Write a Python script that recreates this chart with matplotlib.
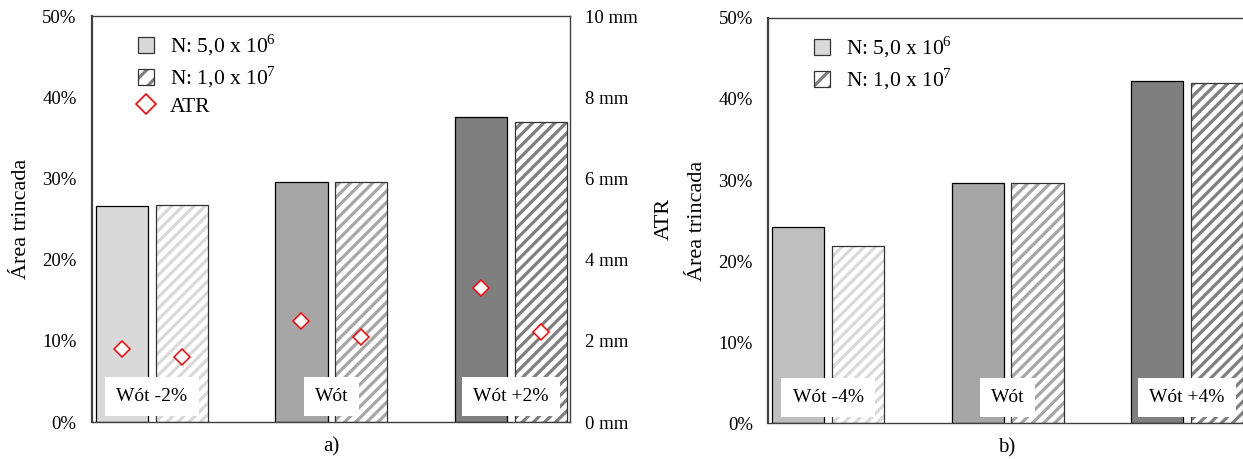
import numpy as np
import matplotlib
matplotlib.use("Agg")
import matplotlib.pyplot as plt
from matplotlib.patches import Patch
from matplotlib.lines import Line2D
from matplotlib.legend_handler import HandlerTuple

plt.rcParams['font.family'] = ['Liberation Serif', 'DejaVu Serif']
plt.rcParams['mathtext.fontset'] = 'custom'
plt.rcParams['mathtext.rm'] = 'Liberation Serif'
plt.rcParams['hatch.linewidth'] = 2.3

# panel a)
groups_a = ['Wót -2%', 'Wót', 'Wót +2%']
area_n1_a = [26.6, 29.6, 37.6]
area_n2_a = [26.7, 29.6, 36.9]
atr_n1_a = [1.80, 2.50, 3.30]
atr_n2_a = [1.61, 2.10, 2.21]
solid_a = ['#d9d9d9', '#a6a6a6', '#7f7f7f']
stripe_a = ['#d9d9d9', '#a6a6a6', '#7f7f7f']

# panel b)
groups_b = ['Wót -4%', 'Wót', 'Wót +4%']
area_n1_b = [24.2, 29.6, 42.2]
area_n2_b = [21.8, 29.6, 42.0]
solid_b = ['#bfbfbf', '#a6a6a6', '#7f7f7f']
stripe_b = ['#d9d9d9', '#a6a6a6', '#7f7f7f']

lab_n1 = r'N: 5,0 x 10$^{\mathrm{6}}$'
lab_n2 = r'N: 1,0 x 10$^{\mathrm{7}}$'

W = 0.29
OFF = 0.167
x = np.arange(3)

fig = plt.figure(figsize=(12.43, 4.59), dpi=100)
ax1 = fig.add_axes([0.074, 0.0806, 0.3846, 0.8845])
ax2 = fig.add_axes([0.6179, 0.0784, 0.3846, 0.8824])


def draw_panel(ax, groups, v1, v2, solid, stripe):
    ax.bar(x - OFF, v1, W, color=solid, edgecolor='black', linewidth=0.9, zorder=2)
    ax.bar(x + OFF, v2, W, color='white', edgecolor=stripe, hatch='///', linewidth=0, zorder=2)
    ax.bar(x + OFF, v2, W, fill=False, edgecolor='#333333', linewidth=0.9, zorder=3)
    for xi, g in zip(x, groups):
        ax.text(xi, 3.1, g, ha='center', va='center', fontsize=14, zorder=5,
                bbox=dict(facecolor='white', edgecolor='none', pad=8))
    ax.set_xlim(-0.334, 2.329)
    ax.set_ylim(0, 50)
    ax.set_yticks(np.arange(0, 51, 10))
    ax.set_yticklabels([f'{t}%' for t in range(0, 51, 10)], fontsize=13.5)
    ax.set_xticks([])
    ax.tick_params(axis='y', length=0, pad=11)
    ax.set_ylabel('Área trincada', fontsize=16, labelpad=8)
    for s in ax.spines.values():
        s.set_color('#404040')
        s.set_linewidth(1.0)
    ax.spines['left'].set_linewidth(1.6)


draw_panel(ax1, groups_a, area_n1_a, area_n2_a, solid_a, stripe_a)
draw_panel(ax2, groups_b, area_n1_b, area_n2_b, solid_b, stripe_b)
ax1.set_xlabel('a)', fontsize=15, labelpad=11)
ax2.set_xlabel('b)', fontsize=15, labelpad=11)

# ATR on secondary axis
axr = ax1.twinx()
axr.set_ylim(0, 10)
axr.set_yticks(np.arange(0, 11, 2))
axr.set_yticklabels([f'{t} mm' for t in range(0, 11, 2)], fontsize=13.5)
axr.tick_params(axis='y', length=0, pad=11)
axr.set_ylabel('ATR', fontsize=16, labelpad=12)
axr.plot(x - OFF, atr_n1_a, 'D', ms=8, mfc='white', mec='red', mew=1.1, zorder=6)
axr.plot(x + OFF, atr_n2_a, 'D', ms=8, mfc='white', mec='red', mew=1.1, zorder=6)
for s in axr.spines.values():
    s.set_visible(False)

leg_kw = dict(handler_map={tuple: HandlerTuple(ndivide=1, pad=0)},
              loc='upper left', frameon=False, fontsize=15.5,
              handlelength=0.75, handleheight=0.75, handletextpad=0.75,
              labelspacing=0.3, borderaxespad=0)

h_solid_a = Patch(facecolor='#d9d9d9', edgecolor='#333333', linewidth=0.9)
h_hatch_a = (Patch(facecolor='white', edgecolor='#7f7f7f', hatch='//', linewidth=0),
             Patch(fill=False, edgecolor='#333333', linewidth=0.9))
h_atr = Line2D([], [], marker='D', ls='none', ms=10, mfc='white', mec='red', mew=1.2)
axr.legend([h_solid_a, h_hatch_a, h_atr], [lab_n1, lab_n2, 'ATR'],
           bbox_to_anchor=(0.078, 0.98), **leg_kw)

h_solid_b = Patch(facecolor='#d9d9d9', edgecolor='#333333', linewidth=0.9)
h_hatch_b = (Patch(facecolor='white', edgecolor='#7f7f7f', hatch='//', linewidth=0),
             Patch(fill=False, edgecolor='#333333', linewidth=0.9))
ax2.legend([h_solid_b, h_hatch_b], [lab_n1, lab_n2],
           bbox_to_anchor=(0.078, 0.98), **leg_kw)

fig.savefig('out.png', dpi=100)
